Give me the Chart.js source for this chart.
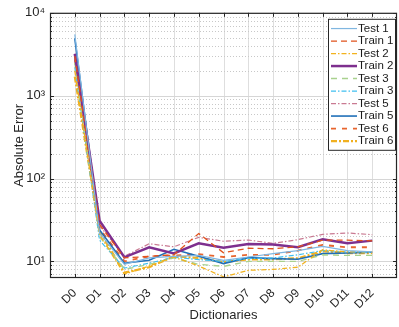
<!DOCTYPE html>
<html>
<head>
<meta charset="utf-8">
<script src="https://cdn.jsdelivr.net/npm/chart.js@4.4.1/dist/chart.umd.min.js"></script>
<style>
  html, body { margin: 0; padding: 0; background: #fff; }
  #wrap { width: 399px; height: 327px; }
</style>
</head>
<body>
<div id="wrap"><canvas id="errChart" width="399" height="327"></canvas></div>
<script>
// categories on the x axis
var dictionaries = ['D0', 'D1', 'D2', 'D3', 'D4', 'D5', 'D6', 'D7', 'D8', 'D9', 'D10', 'D11', 'D12'];

// y axis (log) tick labels
var yTickValues = [10, 100, 1000, 10000];
var yTickLabels = ['10\u00B9', '10\u00B2', '10\u00B3', '10\u2074'];

// series
var test1  = [5500, 22, 9.2, 11.0, 11.5, 11.8, 10.3, 11.3, 12.4, 13.5, 15.2, 13.5, 13.0];
var train1 = [3000, 28, 11.0, 11.5, 12.0, 21.7, 12.7, 14.4, 14.2, 15.0, 18.0, 18.0, 17.7];
var test2  = [2000, 21, 7.0, 8.8, 11.3, 8.8, 6.5, 7.8, 8.0, 8.5, 13.8, 13.0, 13.0];
var train2 = [3200, 31, 11.2, 14.8, 12.5, 16.5, 14.6, 16.2, 16.0, 14.8, 18.5, 16.5, 17.8];
var test3  = [2500, 20, 8.0, 9.2, 11.0, 9.2, 8.7, 10.0, 10.0, 10.0, 12.0, 11.8, 11.8];
var train3 = [2200, 18, 8.3, 9.5, 11.2, 10.5, 10.0, 10.8, 11.0, 12.0, 13.5, 13.0, 12.8];
var test5  = [2800, 27, 11.5, 16.3, 15.0, 19.5, 17.5, 18.1, 16.5, 18.3, 21.2, 22.0, 21.0];
var train5 = [4900, 24, 9.5, 10.3, 14.0, 11.5, 9.4, 11.1, 10.8, 10.6, 12.4, 12.6, 12.9];
var test6  = [2700, 25, 10.0, 11.5, 11.8, 12.2, 11.3, 12.0, 12.0, 13.5, 15.8, 14.8, 14.8];
var train6 = [1700, 23, 7.3, 8.5, 11.5, 11.0, 9.8, 10.6, 10.6, 10.9, 13.3, 12.6, 12.6];

function pts(arr) {
    return arr.map(function (v, i) { return { x: i, y: v }; });
}

function series(label, arr, color, width, dash) {
    return {
        label: label,
        data: pts(arr),
        borderColor: color,
        backgroundColor: color,
        borderWidth: width,
        borderDash: dash,
        pointRadius: 0,
        fill: false,
        tension: 0
    };
}

var datasets = [
    series('Test 1',  test1,  '#7fb6e0', 1.2, []),
    series('Train 1', train1, '#e0521c', 1.3, [6, 4]),
    series('Test 2',  test2,  '#f2b21e', 1.3, [5, 2, 1.5, 2]),
    series('Train 2', train2, '#7e2f8e', 2.5, []),
    series('Test 3',  test3,  '#a9d18e', 1.4, [6, 5]),
    series('Train 3', train3, '#3fbff0', 1.2, [5, 2, 1.5, 2]),
    series('Test 5',  test5,  '#c97a92', 1.2, [5, 2, 1.5, 2]),
    series('Train 5', train5, '#1f6fb8', 1.6, []),
    series('Test 6',  test6,  '#e8652e', 1.8, [5, 6]),
    series('Train 6', train6, '#f0b020', 2.2, [6, 2, 2, 2])
];

var FONT = 'Liberation Sans';
var axisColor = '#262626';

// grid, inward ticks and box like a matlab axes
var matlabAxes = {
    id: 'matlabAxes',
    beforeDatasetsDraw: function (chart) {
        var ctx = chart.ctx, a = chart.chartArea;
        var xs = chart.scales.x, ys = chart.scales.y;
        ctx.save();
        ctx.lineWidth = 1;
        // vertical grid
        ctx.strokeStyle = '#dedede';
        for (var i = 0; i < dictionaries.length; i++) {
            var px = Math.round(xs.getPixelForValue(i)) + 0.5;
            ctx.beginPath(); ctx.moveTo(px, a.top); ctx.lineTo(px, a.bottom); ctx.stroke();
        }
        // minor horizontal grid (dotted)
        ctx.setLineDash([1, 2]);
        ctx.strokeStyle = '#c8c8c8';
        for (var d = 1; d <= 1000; d *= 10) {
            for (var m = 2; m <= 9; m++) {
                var v = d * m;
                if (v < ys.min || v > ys.max) continue;
                var py = Math.round(ys.getPixelForValue(v)) + 0.5;
                ctx.beginPath(); ctx.moveTo(a.left, py); ctx.lineTo(a.right, py); ctx.stroke();
            }
        }
        // major horizontal grid
        ctx.setLineDash([]);
        ctx.strokeStyle = '#d6d6d6';
        yTickValues.forEach(function (v) {
            var py = Math.round(ys.getPixelForValue(v)) + 0.5;
            ctx.beginPath(); ctx.moveTo(a.left, py); ctx.lineTo(a.right, py); ctx.stroke();
        });
        ctx.restore();
    },
    afterDatasetsDraw: function (chart) {
        var ctx = chart.ctx, a = chart.chartArea;
        var xs = chart.scales.x, ys = chart.scales.y;
        ctx.save();
        ctx.strokeStyle = axisColor;
        ctx.lineWidth = 1;
        // inward ticks
        for (var i = 0; i < dictionaries.length; i++) {
            var px = Math.round(xs.getPixelForValue(i)) + 0.5;
            ctx.beginPath(); ctx.moveTo(px, a.bottom); ctx.lineTo(px, a.bottom - 4); ctx.stroke();
            ctx.beginPath(); ctx.moveTo(px, a.top); ctx.lineTo(px, a.top + 4); ctx.stroke();
        }
        for (var d = 1; d <= 10000; d *= 10) {
            for (var m = 1; m <= 9; m++) {
                var v = d * m;
                if (v < ys.min || v > ys.max) continue;
                var len = m === 1 ? 4 : 2;
                var py = Math.round(ys.getPixelForValue(v)) + 0.5;
                ctx.beginPath(); ctx.moveTo(a.left, py); ctx.lineTo(a.left + len, py); ctx.stroke();
                ctx.beginPath(); ctx.moveTo(a.right, py); ctx.lineTo(a.right - len, py); ctx.stroke();
            }
        }
        // box
        ctx.lineWidth = 1.2;
        ctx.strokeRect(a.left + 0.5, a.top + 0.5, a.right - a.left - 1, a.bottom - a.top - 1);
        ctx.restore();
    },
    afterDraw: function (chart) {
        // legend inside the axes, top right
        var ctx = chart.ctx, a = chart.chartArea;
        var bw = 68, rowH = 12.5, pad = 3;
        var bh = datasets.length * rowH + 2 * pad + 1;
        var bx = a.right - bw - 1, by = a.top + 6;
        ctx.save();
        ctx.fillStyle = '#ffffff';
        ctx.fillRect(bx, by, bw, bh);
        ctx.strokeStyle = axisColor;
        ctx.lineWidth = 1;
        ctx.strokeRect(bx + 0.5, by + 0.5, bw - 1, bh - 1);
        ctx.font = '11.5px "' + FONT + '"';
        ctx.textBaseline = 'middle';
        ctx.textAlign = 'left';
        chart.data.datasets.forEach(function (ds, i) {
            var cy = by + pad + rowH * i + rowH / 2 + 0.5;
            ctx.strokeStyle = ds.borderColor;
            ctx.lineWidth = ds.borderWidth;
            ctx.setLineDash(ds.borderDash || []);
            ctx.beginPath(); ctx.moveTo(bx + 3, cy); ctx.lineTo(bx + 29, cy); ctx.stroke();
            ctx.setLineDash([]);
            ctx.fillStyle = '#1a1a1a';
            ctx.fillText(ds.label, bx + 30, cy);
        });
        ctx.restore();
    }
};

var ctx = document.getElementById('errChart');
var errChart = new Chart(ctx, {
    type: 'line',
    data: { datasets: datasets },
    plugins: [matlabAxes],
    options: {
        responsive: false,
        animation: false,
        layout: { padding: { top: 9, right: 2, left: 0, bottom: 0 } },
        plugins: {
            legend: { display: false },
            tooltip: { enabled: false }
        },
        scales: {
            x: {
                type: 'linear',
                min: -1,
                max: 13,
                afterBuildTicks: function (scale) {
                    scale.ticks = dictionaries.map(function (c, i) { return { value: i }; });
                },
                afterFit: function (scale) { scale.height = 49; },
                grid: { display: false, drawTicks: false },
                border: { display: false },
                ticks: {
                    autoSkip: false,
                    minRotation: 45,
                    maxRotation: 45,
                    padding: 8,
                    color: axisColor,
                    font: { family: FONT, size: 12 },
                    callback: function (v) { return dictionaries[v]; }
                },
                title: {
                    display: true,
                    text: 'Dictionaries',
                    color: axisColor,
                    font: { family: FONT, size: 13 },
                    padding: { top: 0, bottom: 4 }
                }
            },
            y: {
                type: 'logarithmic',
                min: 6.3,
                max: 10000,
                afterBuildTicks: function (scale) {
                    scale.ticks = yTickValues.map(function (v) { return { value: v }; });
                },
                afterFit: function (scale) { scale.width = 50; },
                grid: { display: false, drawTicks: false },
                border: { display: false },
                ticks: {
                    autoSkip: false,
                    padding: 5,
                    color: axisColor,
                    font: { family: FONT, size: 13 },
                    callback: function (v) {
                        var k = yTickValues.indexOf(v);
                        return k >= 0 ? yTickLabels[k] : '';
                    }
                },
                title: {
                    display: true,
                    text: 'Absolute Error',
                    color: axisColor,
                    font: { family: FONT, size: 13 },
                    padding: { top: 12, bottom: 0 }
                }
            }
        }
    }
});
</script>
</body>
</html>
